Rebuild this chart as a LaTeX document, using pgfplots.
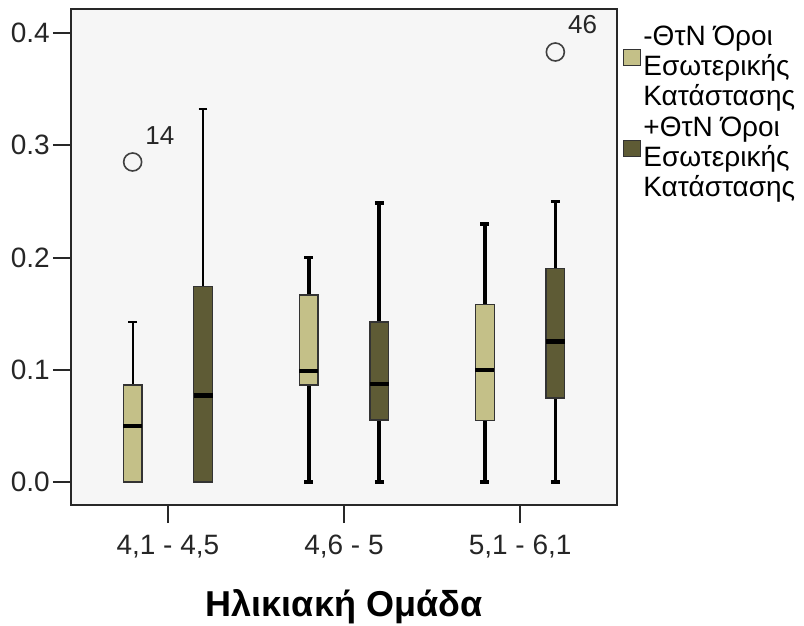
\documentclass[border=0pt]{standalone}
\usepackage{fontspec}
\setmainfont{Liberation Sans}
\usepackage{pgfplots}
\pgfplotsset{compat=1.18}
\usepgfplotslibrary{statistics}
\definecolor{boxlight}{RGB}{196,192,136}
\definecolor{boxdark}{RGB}{94,91,53}
\definecolor{bg}{RGB}{246,246,246}
\definecolor{frame}{RGB}{40,40,40}

\begin{document}
\begin{tikzpicture}
\begin{axis}[
  name=ax,
  width=546pt, height=496pt, scale only axis,
  xmin=-0.55, xmax=2.55, ymin=-0.0205, ymax=0.4214,
  axis background/.style={fill=bg},
  axis line style={line width=1.8pt, frame},
  xtick={0,1,2},
  xticklabels={{4,1 - 4,5},{4,6 - 5},{5,1 - 6,1}},
  ytick={0,0.1,0.2,0.3,0.4},
  /pgf/number format/assume math mode=true,
  yticklabel style={inner sep=3pt, /pgf/number format/.cd, fixed, fixed zerofill, precision=1},
  xtick pos=bottom, ytick pos=left, tick align=outside,
  major tick length=18pt,
  major tick style={line width=2pt, frame},
  ticklabel style={font=\fontsize{28}{30}\selectfont, text=black!85},
  xticklabel style={inner sep=12pt},
  xlabel={Ηλικιακή Ομάδα},
  xlabel style={font=\fontsize{36}{40}\selectfont\bfseries, inner sep=0pt, yshift=-19pt},
  boxplot/draw direction=y,
  boxplot/box extend=0.107,
  boxplot/whisker extend=0.05,
  boxplot/every median/.style={line width=4.5pt, black},
  boxplot/every box/.style={line width=1.4pt, draw=black!80},
  legend cell align=left,
  legend style={at={(1,1)}, anchor=north west, xshift=6pt, yshift=-15pt,
    draw=none, fill=none, inner sep=0pt, row sep=6pt,
    font=\fontsize{28}{30}\selectfont, cells={align=left}},
]
% group 1: 4,1 - 4,5
\addplot[forget plot, fill=boxlight, boxplot/every whisker/.style={line width=2pt, black},
  boxplot prepared={draw position=-0.2, lower whisker=0, lower quartile=0,
  median=0.05, upper quartile=0.0864, upper whisker=0.1425}] coordinates {};
\addplot[forget plot, fill=boxdark, boxplot/every whisker/.style={line width=2pt, black},
  boxplot prepared={draw position=0.2, lower whisker=0, lower quartile=0,
  median=0.077, upper quartile=0.174, upper whisker=0.332}] coordinates {};
% group 2: 4,6 - 5
\addplot[forget plot, fill=boxlight, boxplot/every whisker/.style={line width=3.5pt, black},
  boxplot prepared={draw position=0.8, lower whisker=0, lower quartile=0.0864,
  median=0.099, upper quartile=0.1666, upper whisker=0.2}] coordinates {};
\addplot[forget plot, fill=boxdark, boxplot/every whisker/.style={line width=3.5pt, black},
  boxplot prepared={draw position=1.2, lower whisker=0, lower quartile=0.0552,
  median=0.0873, upper quartile=0.1425, upper whisker=0.2486}] coordinates {};
% group 3: 5,1 - 6,1
\addplot[forget plot, fill=boxlight, boxplot/every whisker/.style={line width=3.5pt, black},
  boxplot prepared={draw position=1.8, lower whisker=0, lower quartile=0.055,
  median=0.1, upper quartile=0.158, upper whisker=0.23}] coordinates {};
\addplot[forget plot, fill=boxdark, boxplot/every whisker/.style={line width=3.5pt, black},
  boxplot prepared={draw position=2.2, lower whisker=0, lower quartile=0.075,
  median=0.125, upper quartile=0.19, upper whisker=0.25}] coordinates {};
% outliers
\addplot[forget plot, only marks, mark=o, mark size=9pt,
  mark options={line width=1.6pt, draw=black!75},
  nodes near coords, point meta=explicit symbolic,
  every node near coord/.append style={anchor=south west, inner sep=0pt,
    xshift=12pt, yshift=17pt, font=\fontsize{26}{28}\selectfont, text=black!85}]
  coordinates {(-0.2,0.2851) [14] (2.2,0.3831) [46]};
% legend
\addlegendimage{legend image code/.code={\draw[fill=boxlight, draw=black!80, line width=1.2pt] (0pt,1pt) rectangle (17pt,17pt);}}
\addlegendentry{-ΘτΝ Όροι\\Εσωτερικής\\Κατάστασης}
\addlegendimage{legend image code/.code={\draw[fill=boxdark, draw=black!80, line width=1.2pt] (0pt,1pt) rectangle (17pt,17pt);}}
\addlegendentry{+ΘτΝ Όροι\\Εσωτερικής\\Κατάστασης}
\end{axis}
\pgfresetboundingbox
\useasboundingbox ([shift={(-71pt,-120pt)}]ax.south west) rectangle ++(804pt,625pt);
\end{tikzpicture}
\end{document}
